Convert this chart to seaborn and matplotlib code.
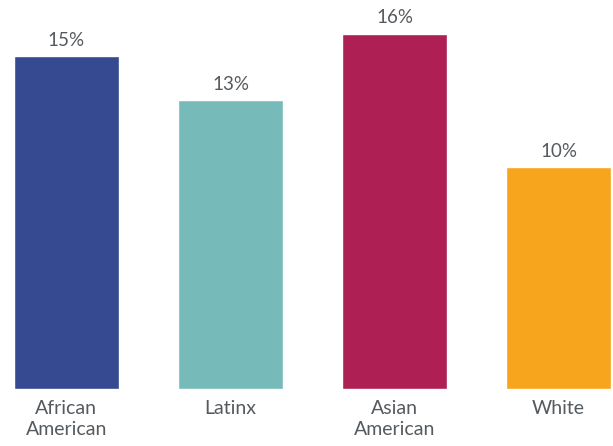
import matplotlib
matplotlib.use("Agg")
import matplotlib.pyplot as plt
import seaborn as sns
import pandas as pd

categories = ["African\nAmerican", "Latinx", "Asian\nAmerican", "White"]
values = [15, 13, 16, 10]
labels = ["15%", "13%", "16%", "10%"]
colors = ["#354a90", "#76bbb9", "#ae1f54", "#f7a51d"]

sns.set_theme(style="white")
plt.rcParams['font.family'] = ['Lato', 'DejaVu Sans']

df = pd.DataFrame({"cat": categories, "val": values})

fig = plt.figure(figsize=(6.13, 4.46), dpi=100)
ax = fig.add_axes([0, 57/446, 1, 389/446])
sns.barplot(data=df, x="cat", y="val", hue="cat", palette=colors, legend=False,
            width=0.64, ax=ax, saturation=1)
ax.set_xlim(-0.405, 3.332)
ax.set_ylim(0, 17.52)
for i, (v, t) in enumerate(zip(values, labels)):
    ax.text(i, v + 0.33, t, ha="center", va="bottom", fontsize=13.5, color="#555a5e")
ax.set_xlabel("")
ax.set_ylabel("")
ax.set_yticks([])
ax.tick_params(axis="x", length=0, pad=8, labelsize=14, labelcolor="#555a5e")
for lab in ax.get_xticklabels():
    lab.set_linespacing(1.3)
for s in ax.spines.values():
    s.set_visible(False)
fig.savefig("out.png", dpi=100)
